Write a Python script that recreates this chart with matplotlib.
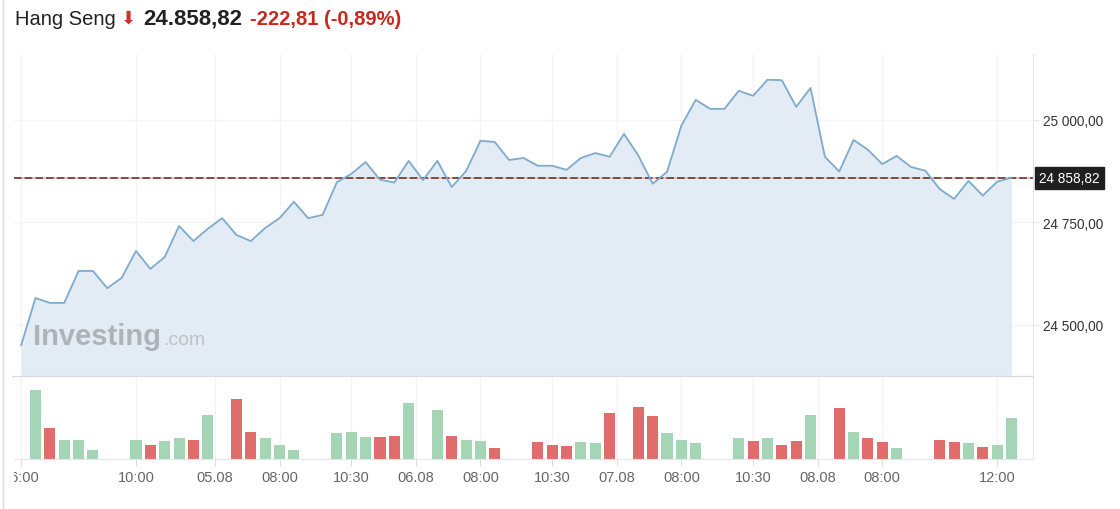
import matplotlib.pyplot as plt
import matplotlib.transforms as mtransforms
from matplotlib.lines import Line2D
import numpy

plt.rcParams['font.family'] = ['Liberation Sans', 'DejaVu Sans']

# price points (5 days, roughly 30 min apart)
price = [24450, 24565, 24553, 24553, 24631, 24631, 24589, 24614, 24680, 24636,
         24665, 24741, 24704, 24734, 24760, 24719, 24704, 24736, 24760, 24800,
         24760, 24768, 24848, 24868, 24897, 24854, 24847, 24900, 24853, 24900,
         24836, 24875, 24949, 24946, 24902, 24907, 24888, 24888, 24878, 24907,
         24919, 24910, 24966, 24913, 24844, 24873, 24986, 25049, 25027, 25027,
         25071, 25059, 25098, 25097, 25032, 25078, 24910, 24874, 24951, 24927,
         24892, 24912, 24885, 24876, 24831, 24807, 24851, 24815, 24849, 24858.82]

# relative volume, 0 = no bar
volume = [0, 69.3, 31, 19.3, 19.3, 9.3, 0, 0, 19.3, 14.3,
          18.3, 21, 19.3, 44.3, 0, 59.7, 27, 21, 14.3, 9.3,
          0, 0, 25.7, 27, 22, 22, 23.3, 55.7, 0, 49.3,
          23.3, 19.3, 18, 10.7, 0, 0, 17, 14.3, 13.3, 17,
          15.7, 45.7, 0, 52, 43, 25.7, 19.3, 15.7, 0, 0,
          20.7, 18, 20.7, 14.3, 18, 44.3, 0, 50.7, 27, 20.7,
          17, 10.7, 0, 0, 19.3, 17, 15.7, 12, 14.3, 40.7]
vol_up = [1, 1, 0, 1, 1, 1, 1, 1, 1, 0,
          1, 1, 0, 1, 1, 0, 0, 1, 1, 1,
          1, 1, 1, 1, 1, 0, 0, 1, 1, 1,
          0, 1, 1, 0, 1, 1, 0, 0, 0, 1,
          1, 0, 1, 0, 0, 1, 1, 1, 1, 1,
          1, 0, 1, 0, 0, 1, 1, 0, 1, 0,
          0, 1, 1, 1, 0, 0, 1, 0, 1, 1]

tick_pos = [0, 8, 13.5, 18, 23, 27.5, 32, 37, 41.5, 46, 51, 55.5, 60, 68]
tick_lab = ['16:00', '10:00', '05.08', '08:00', '10:30', '06.08', '08:00',
            '10:30', '07.08', '08:00', '10:30', '08.08', '08:00', '12:00']
y_ticks = [24500, 24750, 25000]
last = 24858.82

fig = plt.figure(figsize=(11.2, 5.1), dpi=100)
ax = fig.add_axes([14/1120, 1-378/510, (1033-14)/1120, (378-55)/510])
axv = fig.add_axes([14/1120, 1-460/510, (1033-14)/1120, (460-378)/510], sharex=ax)

x = numpy.arange(len(price))
ymin, ymax = 24372, 25161
ax.fill_between(x, price, ymin, color='#e3ecf5', lw=0, zorder=1)
ax.plot(x, price, color='#7eaacd', lw=1.3, zorder=3)
ax.axhline(last, color='#f2b5b5', lw=1.2, zorder=2)
ax.axhline(last, color='#5c2b2b', lw=1.1, ls=(0, (5, 2)), zorder=2)
ax.set_xlim(-0.5, 70.5)
ax.set_ylim(ymin, ymax)
ax.set_xticks(tick_pos)
ax.set_yticks(y_ticks)
ax.yaxis.tick_right()
ax.set_yticklabels([f'{v:,.2f}'.replace(',', ' ').replace('.', ',') for v in y_ticks])
ax.tick_params(axis='y', length=4, color='#e6e6e6', labelsize=9.8, labelcolor='#333333', pad=3)
ax.tick_params(axis='x', length=0, labelbottom=False)
ax.grid(True, color='#f4f4f4', lw=1)
ax.set_axisbelow(True)
for s in ['left', 'top']:
    ax.spines[s].set_visible(False)
ax.spines['right'].set_color('#e6e6e6')
ax.spines['bottom'].set_color('#d3d9df')
ax.spines['bottom'].set_linewidth(1.6)

# current price box
trans = mtransforms.blended_transform_factory(ax.transAxes, ax.transData)
ax.text(1.006, last, '24 858,82', transform=trans, ha='left', va='center',
        fontsize=9.8, color='white',
        bbox=dict(boxstyle='square,pad=0.3', fc='#1f1f1f', ec='#1f1f1f'))

# watermark
ax.text(33/1120, 1-345/510, 'Investing', transform=fig.transFigure, fontsize=21,
        fontweight='bold', color='#aeb3b9', va='baseline', ha='left', zorder=4)
ax.text(163/1120, 1-345/510, '.com', transform=fig.transFigure, fontsize=14,
        color='#bfc3c8', va='baseline', ha='left', zorder=4)

# volume
colors = ['#a4d6b5' if u else '#e06c6c' for u in vol_up]
axv.bar(x, volume, width=0.77, color=colors, zorder=2)
axv.set_ylim(0, 82)
axv.set_yticks([])
axv.set_xticks(tick_pos)
axv.set_xticklabels(tick_lab)
axv.tick_params(axis='x', length=5, color='#dddddd', labelsize=10.5, labelcolor='#666666', pad=3)
axv.grid(True, axis='x', color='#f4f4f4', lw=1)
axv.set_axisbelow(True)
for s in ['left', 'top']:
    axv.spines[s].set_visible(False)
axv.spines['right'].set_color('#e6e6e6')
axv.spines['bottom'].set_color('#e3e6ea')

clip = mtransforms.TransformedBbox(mtransforms.Bbox([[14/1120, 0], [1, 1]]), fig.transFigure)
for lbl in axv.get_xticklabels():
    lbl.set_clip_box(clip)
    lbl.set_clip_on(True)

# header
fig.text(15/1120, 1-25/510, 'Hang Seng', fontsize=14.5, color='#222222', va='baseline')
fig.text(121/1120, 1-24/510, '⬇', fontsize=13, color='#d32f2f', va='baseline',
         family=['DejaVu Sans'])
fig.text(143/1120, 1-25/510, '24.858,82', fontsize=16, fontweight='bold',
         color='#222222', va='baseline')
fig.text(250/1120, 1-25/510, '-222,81 (-0,89%)', fontsize=14.5, fontweight='bold',
         color='#c8291f', va='baseline')

fig.add_artist(Line2D([3/1120, 3/1120], [0, 1], transform=fig.transFigure,
                      color='#dddddd', lw=1))

fig.savefig('out.png', dpi=100)
